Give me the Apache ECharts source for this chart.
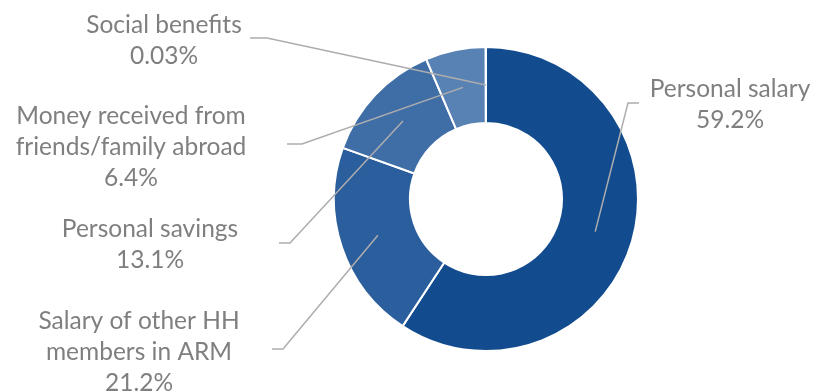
<!DOCTYPE html>
<html>
<head>
<meta charset="utf-8">
<script src="https://cdn.jsdelivr.net/npm/echarts@6/dist/echarts.min.js"></script>
<style>
  html, body { margin: 0; padding: 0; background: #ffffff; }
  #chart { width: 813px; height: 391px; }
</style>
</head>
<body>
<div id="chart"></div>
<script>
// Sources of household income (share, %)
const categories = [
  'Personal salary',
  'Salary of other HH\nmembers in ARM',
  'Personal savings',
  'Money received from\nfriends/family abroad',
  'Social benefits'
];
const values = [59.2, 21.2, 13.1, 6.4, 0.03];
const valueLabels = ['59.2%', '21.2%', '13.1%', '6.4%', '0.03%'];
const colors = ['#124C8F', '#2B5E9C', '#3F6EA7', '#5881B4', '#6A90C0'];

// Ring geometry
const CX = 486, CY = 199;
const R_IN = 76, R_OUT = 152;

// Label block centres and leader-line elbows / ends
const labelCentres = [[730, 105], [139, 352], [150, 245], [131, 147], [164, 41]];
const leaderElbows = [[628, 103], [283, 349], [290, 243], [302, 144], [267, 38]];
const leaderEnds = [[639, 103], [272, 349], [279, 243], [287, 144], [250, 38]];

// Leader anchors sit mid-ring at each slice's mid-angle (clockwise from 12 o'clock)
const total = values.reduce((a, b) => a + b, 0);
const anchors = [];
let acc = 0;
values.forEach(v => {
  const mid = (acc + v / 2) / total * Math.PI * 2;
  const r = (R_IN + R_OUT) / 2;
  anchors.push([CX + r * Math.sin(mid), CY - r * Math.cos(mid)]);
  acc += v;
});

// Leader lines are drawn above the ring
const leaders = values.map((v, i) => ({
  type: 'polyline',
  z: 100,
  silent: true,
  shape: { points: [anchors[i], leaderElbows[i], leaderEnds[i]] },
  style: { stroke: '#ADADAD', lineWidth: 1.5, fill: null }
}));

const chart = echarts.init(document.getElementById('chart'), null, { renderer: 'canvas' });
chart.setOption({
  animation: false,
  backgroundColor: '#ffffff',
  graphic: { elements: leaders },
  series: [{
    type: 'pie',
    center: [CX, CY],
    radius: [R_IN, R_OUT],
    startAngle: 90,
    clockwise: true,
    avoidLabelOverlap: false,
    data: categories.map((name, i) => ({
      name: name,
      value: values[i],
      itemStyle: { color: colors[i] }
    })),
    itemStyle: { borderColor: '#ffffff', borderWidth: 2 },
    label: {
      show: true,
      position: 'outside',
      formatter: p => p.name + '\n' + valueLabels[p.dataIndex],
      fontFamily: 'Lato',
      fontSize: 24.5,
      lineHeight: 31,
      color: '#7F7F7F',
      align: 'center'
    },
    labelLine: { show: false },
    labelLayout: function (params) {
      const i = params.dataIndex;
      return {
        x: labelCentres[i][0],
        y: labelCentres[i][1],
        align: 'center',
        verticalAlign: 'middle'
      };
    },
    emphasis: { disabled: true }
  }]
});
</script>
</body>
</html>
